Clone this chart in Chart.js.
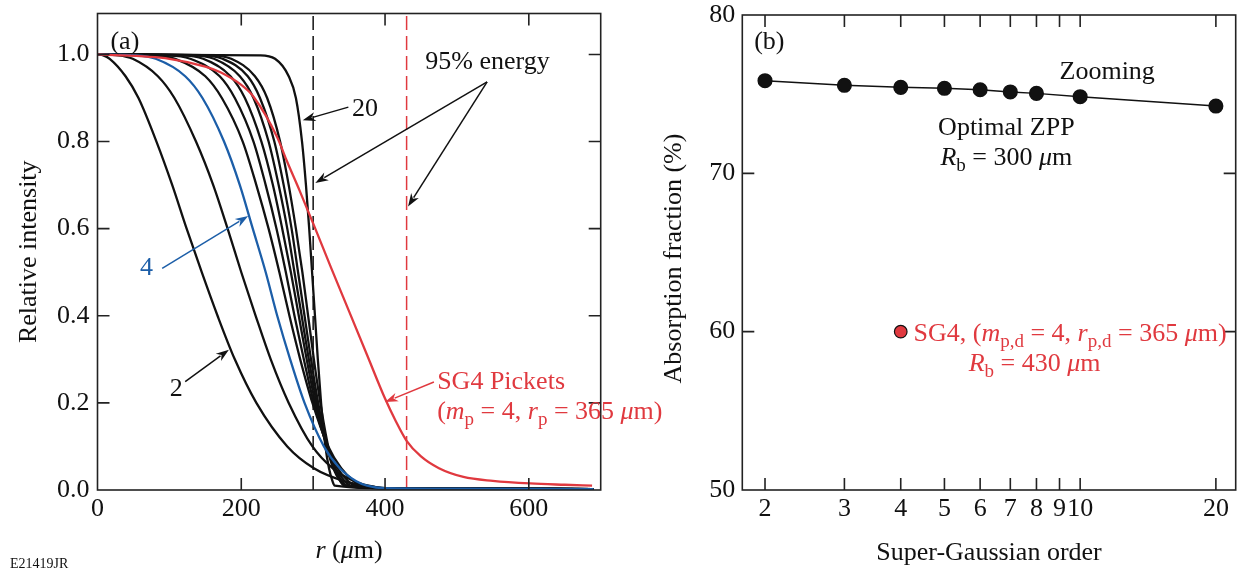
<!DOCTYPE html>
<html>
<head>
<meta charset="utf-8">
<script src="https://cdn.jsdelivr.net/npm/chart.js@4.4.1/dist/chart.umd.min.js"></script>
<style>
  html, body { margin: 0; padding: 0; background: #fff; }
  #wrap { position: relative; width: 1244px; height: 570px; overflow: hidden; }
  canvas { position: absolute; top: 0; }
  #left { left: 0; }
  #right { left: 640px; }
</style>
</head>
<body>
<div id="wrap">
  <canvas id="left" width="700" height="570" style="width:700px;height:570px"></canvas>
  <canvas id="right" width="604" height="570" style="width:604px;height:570px"></canvas>
</div>
<script>
// ---- panel (a): radius (um) where each super-Gaussian falls to the given intensity
const levels = [0.998, 0.99, 0.95, 0.9, 0.8, 0.7, 0.6, 0.5, 0.4, 0.3, 0.2, 0.1, 0.05, 0.02, 0.01];
const rSG2  = [8, 17, 39, 57, 82, 104, 124, 145, 167, 191, 221, 264, 301, 344, 373];
const rSG3  = [29, 49, 84, 107, 137, 161, 181, 200, 220, 241, 266, 299, 327, 357, 377];
const rSG4  = [54, 81, 122, 146, 176, 198, 216, 234, 250, 268, 288, 315, 337, 360, 375];
const rSG5  = [79, 108, 150, 173, 202, 221, 238, 253, 267, 282, 299, 321, 339, 357, 369];
const rSG6  = [99, 129, 170, 191, 217, 234, 249, 262, 274, 287, 301, 320, 334, 349, 359];
const rSG7  = [117, 147, 185, 205, 228, 244, 257, 269, 280, 291, 303, 319, 331, 344, 352];
const rSG8  = [132, 162, 198, 217, 238, 252, 264, 274, 284, 294, 305, 319, 329, 340, 347];
const rSG9  = [146, 174, 209, 226, 246, 259, 270, 279, 288, 297, 307, 319, 328, 338, 345];
const rSG10 = [159, 186, 219, 236, 254, 266, 276, 285, 293, 301, 310, 321, 330, 338, 344];
const rSG20 = [226, 247, 266, 276, 284.5, 290, 294.5, 298.5, 302.5, 306.5, 311, 317, 322, 327, 330];
const tailR = [400, 500, 690];
const tailI = [0.004, 0.003, 0.002];

// SG4 pickets curve
const pickR = [0, 100, 150, 171, 200, 217, 250, 263, 281, 300, 325, 350, 375, 400, 415, 430, 450, 475, 509, 550, 602, 650, 688];
const pickI = [1.0, 0.99, 0.972, 0.959, 0.93, 0.903, 0.81, 0.757, 0.688, 0.612, 0.51, 0.41, 0.31, 0.21, 0.158, 0.113, 0.077, 0.05, 0.03, 0.021, 0.015, 0.012, 0.010];

const energyR = [300, 430];   // 95% energy radii
const xTicksA = [0, 200, 400, 600];
const yTicksA = [0, 0.2, 0.4, 0.6, 0.8, 1.0];

// ---- panel (b)
const orders  = [2, 3, 4, 5, 6, 7, 8, 10, 20];
const zoomAbs = [75.85, 75.56, 75.43, 75.37, 75.28, 75.14, 75.05, 74.84, 74.25];
const sg4Order = [4];
const sg4Abs = [60.0];
const xTicksB = [2, 3, 4, 5, 6, 7, 8, 9, 10, 20];
const yTicksB = [50, 60, 70, 80];

const FAMILY = "'Liberation Serif', 'Times New Roman', serif";
const SIZE = 26;
const SUB = 19;
const RED = '#e0393f';
const BLUE = '#1c5ea8';
const INK = '#111';

Chart.defaults.font.family = FAMILY;
Chart.defaults.font.size = SIZE;
Chart.defaults.color = INK;

function curve(rs) {
  const pts = [{ x: 0, y: 1 }];
  rs.forEach((r, i) => pts.push({ x: r, y: levels[i] }));
  tailR.forEach((r, i) => pts.push({ x: r, y: tailI[i] }));
  return pts;
}

// rich text: parts = [[text, flag]], flag '' normal, 'i' italic, 's' subscript
function partFont(f) {
  if (f === 's') return `${SUB}px ${FAMILY}`;
  if (f === 'i') return `italic ${SIZE}px ${FAMILY}`;
  return `${SIZE}px ${FAMILY}`;
}
function richWidth(ctx, parts) {
  let w = 0;
  parts.forEach(([t, f]) => { ctx.font = partFont(f); w += ctx.measureText(t).width; });
  return w;
}
function drawRich(ctx, x, yMid, parts, align, color) {
  ctx.save();
  ctx.fillStyle = color || INK;
  ctx.textBaseline = 'alphabetic';
  ctx.textAlign = 'left';
  const w = richWidth(ctx, parts);
  let cx = align === 'center' ? x - w / 2 : x;
  const base = yMid + SIZE * 0.33;
  parts.forEach(([t, f]) => {
    ctx.font = partFont(f);
    ctx.fillText(t, cx, f === 's' ? base + 6 : base);
    cx += ctx.measureText(t).width;
  });
  ctx.restore();
}
function arrow(ctx, x0, y0, x1, y1, color) {
  const ang = Math.atan2(y1 - y0, x1 - x0);
  const len = 13, half = 4.5;
  ctx.save();
  ctx.strokeStyle = color; ctx.fillStyle = color; ctx.lineWidth = 1.5;
  ctx.beginPath();
  ctx.moveTo(x0, y0);
  ctx.lineTo(x1 - Math.cos(ang) * len * 0.8, y1 - Math.sin(ang) * len * 0.8);
  ctx.stroke();
  ctx.beginPath();
  ctx.moveTo(x1, y1);
  ctx.lineTo(x1 - Math.cos(ang) * len + Math.sin(ang) * half, y1 - Math.sin(ang) * len - Math.cos(ang) * half);
  ctx.lineTo(x1 - Math.cos(ang) * len * 0.7, y1 - Math.sin(ang) * len * 0.7);
  ctx.lineTo(x1 - Math.cos(ang) * len - Math.sin(ang) * half, y1 - Math.sin(ang) * len + Math.cos(ang) * half);
  ctx.closePath();
  ctx.fill();
  ctx.restore();
}

// box with inward ticks on all four sides
const framePlugin = {
  id: 'frame',
  afterDatasetsDraw(chart) {
    const { ctx, chartArea: a, scales } = chart;
    const L = 12;
    ctx.save();
    ctx.strokeStyle = '#222';
    ctx.lineWidth = 1.6;
    ctx.beginPath();
    scales.x.ticks.forEach(t => {
      const px = scales.x.getPixelForValue(t.value);
      if (px < a.left + 2 || px > a.right - 2) return;
      ctx.moveTo(px, a.bottom); ctx.lineTo(px, a.bottom - L);
      ctx.moveTo(px, a.top); ctx.lineTo(px, a.top + L);
    });
    scales.y.ticks.forEach(t => {
      const py = scales.y.getPixelForValue(t.value);
      if (py < a.top + 2 || py > a.bottom - 2) return;
      ctx.moveTo(a.left, py); ctx.lineTo(a.left + L, py);
      ctx.moveTo(a.right, py); ctx.lineTo(a.right - L, py);
    });
    ctx.stroke();
    ctx.strokeRect(a.left, a.top, a.right - a.left, a.bottom - a.top);
    ctx.restore();
  }
};

const annotA = {
  id: 'annotA',
  afterDraw(chart) {
    const { ctx, chartArea: a, scales: { x, y } } = chart;
    const X = v => x.getPixelForValue(v), Y = v => y.getPixelForValue(v);
    drawRich(ctx, X(18), Y(1.033), [['(a)', '']], 'left');
    drawRich(ctx, X(456), Y(0.987), [['95% energy', '']], 'left');
    arrow(ctx, X(542), Y(0.937), X(303), Y(0.705), INK);
    arrow(ctx, X(542), Y(0.937), X(432), Y(0.651), INK);
    drawRich(ctx, X(354), Y(0.879), [['20', '']], 'left');
    arrow(ctx, X(349), Y(0.879), X(285.5), Y(0.849), INK);
    drawRich(ctx, X(68), Y(0.514), [['4', '']], 'center', BLUE);
    arrow(ctx, X(90), Y(0.509), X(209.6), Y(0.629), BLUE);
    drawRich(ctx, X(109.5), Y(0.236), [['2', '']], 'center');
    arrow(ctx, X(122), Y(0.249), X(182.8), Y(0.322), INK);
    drawRich(ctx, X(472.5), Y(0.252), [['SG4 Pickets', '']], 'left', RED);
    drawRich(ctx, X(472.5), Y(0.183), [['(', ''], ['m', 'i'], ['p', 's'], [' = 4, ', ''], ['r', 'i'], ['p', 's'], [' = 365 ', ''], ['\u03bc', 'i'], ['m)', '']], 'left', RED);
    arrow(ctx, X(468), Y(0.248), X(400), Y(0.202), RED);
    // axis titles
    drawRich(ctx, (a.left + a.right) / 2, a.bottom + 59, [['r', 'i'], [' (', ''], ['\u03bc', 'i'], ['m)', '']], 'center');
    ctx.save();
    ctx.translate(27, (a.top + a.bottom) / 2);
    ctx.rotate(-Math.PI / 2);
    drawRich(ctx, 0, 0, [['Relative intensity', '']], 'center');
    ctx.restore();
    ctx.save();
    ctx.fillStyle = INK;
    ctx.font = `14px ${FAMILY}`;
    ctx.textBaseline = 'alphabetic';
    ctx.fillText('E21419JR', 10, 568);
    ctx.restore();
  }
};

const annotB = {
  id: 'annotB',
  afterDraw(chart) {
    const { ctx, chartArea: a, scales: { x, y } } = chart;
    const X = v => x.getPixelForValue(v), Y = v => y.getPixelForValue(v);
    drawRich(ctx, X(1.892), Y(78.42), [['(b)', '']], 'left');
    drawRich(ctx, X(9.0), Y(76.53), [['Zooming', '']], 'left');
    drawRich(ctx, X(6.86), Y(72.99), [['Optimal ZPP', '']], 'center');
    drawRich(ctx, X(6.86), Y(71.09), [['R', 'i'], ['b', 's'], [' = 300 ', ''], ['\u03bc', 'i'], ['m', '']], 'center');
    drawRich(ctx, X(4.27), Y(59.97), [['SG4, (', ''], ['m', 'i'], ['p,d', 's'], [' = 4, ', ''], ['r', 'i'], ['p,d', 's'], [' = 365 ', ''], ['\u03bc', 'i'], ['m)', '']], 'left', RED);
    drawRich(ctx, X(5.66), Y(58.08), [['R', 'i'], ['b', 's'], [' = 430 ', ''], ['\u03bc', 'i'], ['m', '']], 'left', RED);
    drawRich(ctx, (a.left + a.right) / 2, a.bottom + 61, [['Super-Gaussian order', '']], 'center');
    ctx.save();
    ctx.translate(32, (a.top + a.bottom) / 2 + 6);
    ctx.rotate(-Math.PI / 2);
    drawRich(ctx, 0, 0, [['Absorption fraction (%)', '']], 'center');
    ctx.restore();
  }
};

const lineStyle = (color, data) => ({
  data, borderColor: color, borderWidth: 2.3, pointRadius: 0,
  cubicInterpolationMode: 'monotone', fill: false
});

const blackCurves = [rSG2, rSG3, rSG5, rSG6, rSG7, rSG8, rSG9, rSG10, rSG20];
const setsA = [
  lineStyle(RED, pickR.map((r, i) => ({ x: r, y: pickI[i] }))),
  lineStyle(BLUE, curve(rSG4)),
  ...blackCurves.map(rs => lineStyle(INK, curve(rs))),
  ...energyR.map((r, i) => ({
    data: [{ x: r, y: 0 }, { x: r, y: 1.094 }],
    borderColor: i === 0 ? INK : RED, borderWidth: 1.5, borderDash: [14, 6],
    pointRadius: 0, fill: false
  }))
];

const fitY = w => s => { s.width = w; s.paddingTop = 0; s.paddingBottom = 0; };
const fitX = s => { s.height = 80; s.paddingLeft = 0; s.paddingRight = 0; };

new Chart(document.getElementById('left'), {
  type: 'line',
  data: { datasets: setsA },
  options: {
    responsive: false, animation: false,
    layout: { padding: { top: 13.5, right: 99.3, left: 0, bottom: 0 } },
    plugins: { legend: { display: false }, tooltip: { enabled: false } },
    scales: {
      x: {
        type: 'linear', min: 0, max: 700,
        afterBuildTicks: s => { s.ticks = xTicksA.map(v => ({ value: v })); },
        afterFit: fitX,
        grid: { display: false, drawTicks: false }, border: { display: false },
        ticks: { padding: 4, autoSkip: false, maxRotation: 0, minRotation: 0, callback: v => String(v) }
      },
      y: {
        type: 'linear', min: 0, max: 1.094,
        afterBuildTicks: s => { s.ticks = yTicksA.map(v => ({ value: v })); },
        afterFit: fitY(97.5),
        grid: { display: false, drawTicks: false }, border: { display: false },
        ticks: { padding: 8, callback: v => Number(v).toFixed(1) }
      }
    }
  },
  plugins: [framePlugin, annotA]
});

new Chart(document.getElementById('right'), {
  type: 'line',
  data: {
    datasets: [
      {
        data: sg4Order.map((o, i) => ({ x: o, y: sg4Abs[i] })),
        showLine: false, pointRadius: 6.3, pointBackgroundColor: RED,
        pointBorderColor: INK, pointBorderWidth: 1.2
      },
      {
        data: orders.map((o, i) => ({ x: o, y: zoomAbs[i] })),
        borderColor: INK, borderWidth: 1.5, pointRadius: 6.8,
        pointBackgroundColor: INK, pointBorderColor: INK, tension: 0
      }
    ]
  },
  options: {
    responsive: false, animation: false,
    layout: { padding: { top: 15, right: 3, left: 0, bottom: 0 } },
    plugins: { legend: { display: false }, tooltip: { enabled: false } },
    scales: {
      x: {
        type: 'logarithmic', min: 1.781, max: 22.13,
        afterBuildTicks: s => { s.ticks = xTicksB.map(v => ({ value: v })); },
        afterFit: fitX,
        grid: { display: false, drawTicks: false }, border: { display: false },
        ticks: { padding: 4, autoSkip: false, maxRotation: 0, minRotation: 0, callback: v => String(v) }
      },
      y: {
        type: 'linear', min: 50, max: 80,
        afterBuildTicks: s => { s.ticks = yTicksB.map(v => ({ value: v })); },
        afterFit: fitY(102.3),
        grid: { display: false, drawTicks: false }, border: { display: false },
        ticks: { padding: 7, callback: v => String(v) }
      }
    }
  },
  plugins: [framePlugin, annotB]
});
</script>
</body>
</html>
